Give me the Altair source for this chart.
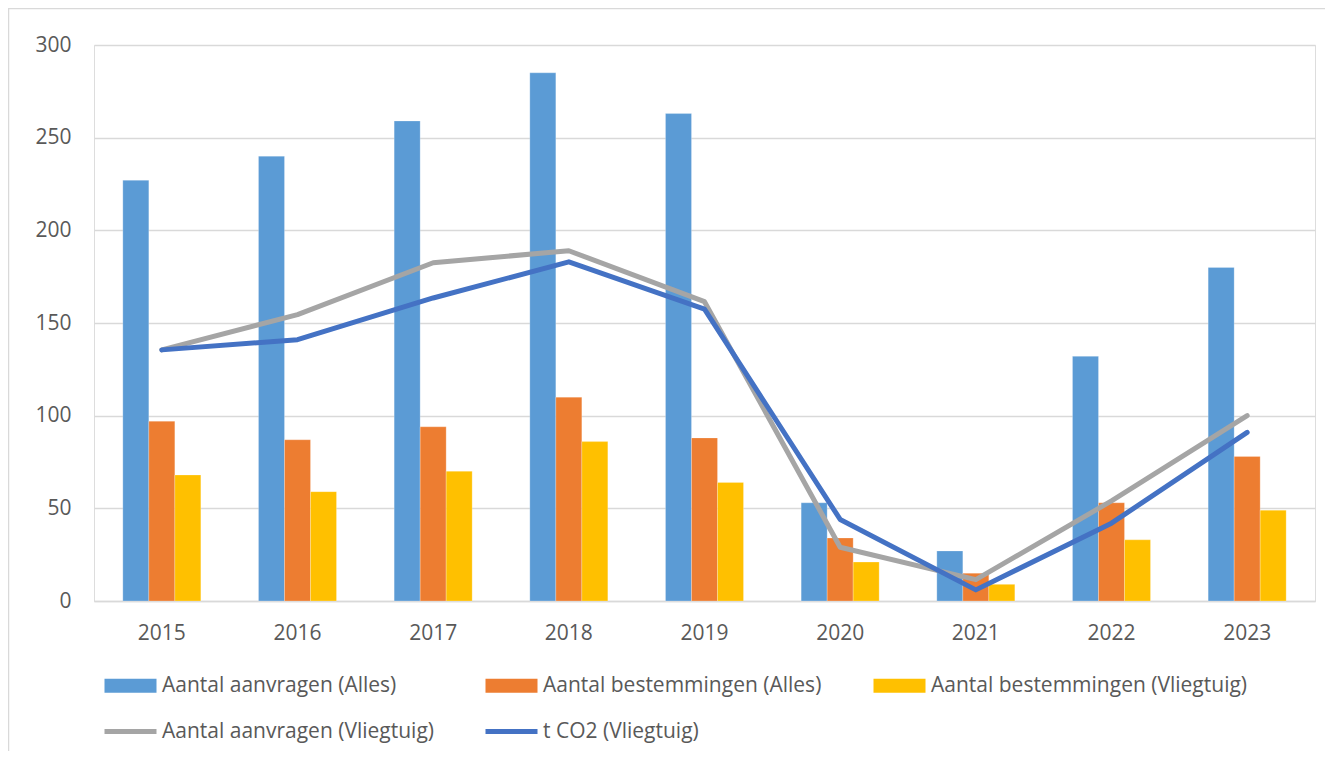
import altair as alt
import pandas as pd

years = ["2015", "2016", "2017", "2018", "2019", "2020", "2021", "2022", "2023"]
aanvragen_alles = [227, 240, 259, 285, 263, 53, 27, 132, 180]
bestemmingen_alles = [97, 87, 94, 110, 88, 34, 15, 53, 78]
bestemmingen_vlieg = [68, 59, 70, 86, 64, 21, 9, 33, 49]
aanvragen_vlieg = [135.5, 154.5, 182.5, 189, 161.5, 29, 11.5, 54, 100]
co2_vlieg = [135.5, 141, 163.5, 183, 157.5, 44, 6, 42, 91]

bar_series = ["Aantal aanvragen (Alles)", "Aantal bestemmingen (Alles)", "Aantal bestemmingen (Vliegtuig)"]
line_series = ["Aantal aanvragen (Vliegtuig)", "t CO2 (Vliegtuig)"]
all_series = bar_series + line_series
colors = ["#5B9BD5", "#ED7D31", "#FFC000", "#A5A5A5", "#4472C4"]

rows = []
for s, vals in zip(bar_series, [aanvragen_alles, bestemmingen_alles, bestemmingen_vlieg]):
    for y, v in zip(years, vals):
        rows.append({"year": y, "series": s, "value": v})
bars_df = pd.DataFrame(rows)
rows = []
for s, vals in zip(line_series, [aanvragen_vlieg, co2_vlieg]):
    for y, v in zip(years, vals):
        rows.append({"year": y, "series": s, "value": v})
lines_df = pd.DataFrame(rows)

W, H = 1221, 556

is_line = "(datum.value == 'Aantal aanvragen (Vliegtuig)' || datum.value == 't CO2 (Vliegtuig)')"
legend = alt.Legend(
    title=None,
    orient="none",
    legendX=26,
    legendY=630,
    columns=3,
    direction="horizontal",
    columnPadding=23,
    rowPadding=6,
    padding=0,
    symbolType="M-1,0H1",
    symbolSize=2704,
    symbolOffset=0,
    symbolStrokeWidth=alt.ExprRef(expr=is_line + " ? 5 : 14"),
    symbolStrokeColor=alt.ExprRef(expr="scale('color', datum.value)"),
    symbolOpacity=1,
    labelFontSize=21,
    labelColor="#595959",
    labelFont="Open Sans",
    labelOffset=21,
    labelLimit=400,
)

color = alt.Color(
    "series:N",
    scale=alt.Scale(domain=all_series, range=colors),
    legend=legend,
)

x_enc = alt.X(
    "year:N",
    sort=years,
    title=None,
    scale=alt.Scale(paddingInner=0.425, paddingOuter=0.2125),
    axis=alt.Axis(
        labelAngle=0,
        labelFontSize=21,
        labelColor="#595959",
        labelPadding=21,
        ticks=False,
        tickSize=0,
        domainColor="#D9D9D9",
        domainWidth=1.5,
        grid=False,
    ),
)
y_enc = alt.Y(
    "value:Q",
    title=None,
    scale=alt.Scale(domain=[0, 300], nice=False),
    axis=alt.Axis(
        values=[0, 50, 100, 150, 200, 250, 300],
        labelFontSize=21,
        labelColor="#595959",
        labelPadding=23,
        ticks=False,
        tickSize=0,
        domain=False,
        gridColor="#D9D9D9",
        gridWidth=1.3,
    ),
)

bars = alt.Chart(bars_df).mark_bar(stroke="white", strokeWidth=0.4, strokeOpacity=0.6).encode(
    x=x_enc,
    xOffset=alt.XOffset("series:N", sort=bar_series, scale=alt.Scale(domain=bar_series, paddingInner=0, paddingOuter=0)),
    y=y_enc,
    color=color,
)

lines = alt.Chart(lines_df).mark_line(strokeWidth=5, strokeCap="round", strokeJoin="round").encode(
    x=alt.X("year:N", sort=years),
    y=alt.Y("value:Q"),
    color=alt.Color("series:N"),
)

frame = alt.Chart(pd.DataFrame({"a": [0]})).mark_rect(
    fill="transparent", stroke="#D9D9D9", strokeWidth=1.5
).encode(
    x=alt.value(-85.5), x2=alt.value(W + 200), y=alt.value(-36.5), y2=alt.value(H + 400)
)

chart = alt.layer(bars, lines, frame).properties(
    width=W,
    height=H,
    padding={"left": 86, "top": 37, "right": 10, "bottom": 150},
    autosize=alt.AutoSizeParams(type="none"),
).configure_view(stroke=None).configure(font="Open Sans")

chart.save("out.html", embed_options={"renderer": "svg", "actions": False})
